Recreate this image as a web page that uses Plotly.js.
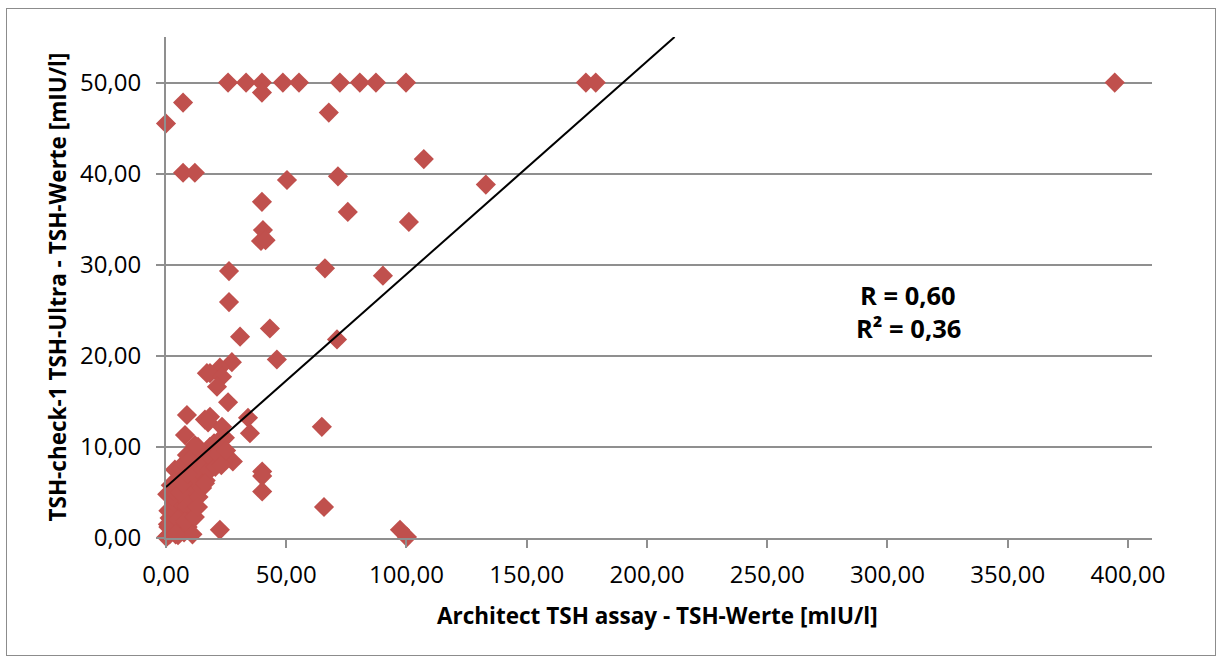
<!DOCTYPE html>
<html>
<head>
<meta charset="utf-8">
<script src="https://cdn.plot.ly/plotly-3.0.1.min.js"></script>
<style>
  html, body { margin: 0; padding: 0; background: #ffffff; }
  #chart { position: absolute; left: 0; top: 0; width: 1216px; height: 657px; }
  #frame { position: absolute; left: 6px; top: 8px; width: 1208px; height: 646px;
           border: 1px solid #8c8c8c; pointer-events: none; }
</style>
</head>
<body>
<div id="chart"></div>
<div id="frame"></div>
<script>
// Architect TSH assay values (x) and TSH-check-1 values (y), mIU/l
const architectTSH = [
  25.8, 33.3, 39.9, 48.6, 55.3, 72.3, 80.6, 87.3, 99.8, 174.6, 178.7, 394.5,
  0.0, 7.1, 39.9, 67.7, 7.1, 12.0, 50.3, 71.5, 107.2, 133.0, 75.6, 101.0,
  39.9, 40.3, 39.5, 41.4, 66.1, 90.2, 26.2, 26.2, 30.8, 43.2, 71.1, 46.1,
  27.4, 17.0, 22.4, 18.3, 23.3, 21.2, 25.8, 8.7, 16.2, 18.3, 17.5, 23.3,
  34.1, 34.9, 7.9, 24.5, 13.3, 18.3, 64.8, 65.7, 97.3, 100.2, 40.0, 40.0,
  40.0, 27.8, 23.7, 22.4,
  0.2, 1.0, 1.5, 2.0, 2.5, 3.0, 3.5, 4.0, 4.2, 5.0, 5.5, 6.0, 6.5, 7.0, 7.5,
  8.0, 8.5, 9.0, 9.5, 10.0, 10.5, 11.0, 11.5, 12.0, 12.5, 13.0, 13.5, 14.0,
  14.5, 15.0, 16.0, 16.5, 17.0, 18.0, 19.0, 20.0, 20.5, 21.5, 22.5, 23.0,
  25.0, 0.5, 1.0, 2.0, 3.7, 1.5, 0.8, 2.8, 4.5, 5.5, 6.5, 7.5, 8.7, 10.0,
  5.0, 3.0, 6.0, 7.0, 9.0, 12.0, 11.0, 8.0, 4.0, 12.0, 16.2, 13.3
];
const checkTSH = [
  50.0, 50.0, 50.0, 50.0, 50.0, 50.0, 50.0, 50.0, 50.0, 50.0, 50.0, 50.0,
  45.5, 47.8, 48.9, 46.7, 40.1, 40.1, 39.3, 39.7, 41.6, 38.8, 35.8, 34.7,
  36.9, 33.8, 32.6, 32.7, 29.6, 28.8, 29.3, 25.9, 22.1, 23.0, 21.8, 19.6,
  19.3, 18.1, 18.7, 18.1, 17.7, 16.6, 14.9, 13.5, 13.0, 13.3, 12.7, 12.2,
  13.2, 11.5, 11.3, 11.0, 10.0, 10.0, 12.2, 3.4, 0.9, 0.1, 7.3, 6.8,
  5.1, 8.4, 8.4, 0.9,
  0.1, 1.2, 0.4, 2.1, 3.2, 0.8, 1.8, 4.0, 2.6, 0.3, 3.6, 1.5, 4.6, 2.8, 0.6,
  5.2, 3.5, 1.2, 6.2, 4.4, 2.2, 7.0, 5.3, 3.2, 8.0, 6.1, 4.5, 9.0,
  7.2, 5.5, 8.2, 6.3, 9.6, 7.4, 8.8, 10.4, 7.8, 9.2, 10.8, 8.0,
  9.6, 4.8, 3.0, 5.8, 7.5, 2.2, 1.5, 4.5, 5.9, 6.6, 7.6, 8.2, 9.1, 8.6,
  2.0, 5.2, 5.0, 6.0, 7.0, 10.2, 0.4, 1.8, 0.4, 2.3, 6.0, 3.4
];
// linear trend line
const trendSlope = 0.2336;
const trendIntercept = 5.6;
const xTicks = [0, 50, 100, 150, 200, 250, 300, 350, 400];
const yTicks = [0, 10, 20, 30, 40, 50];
const statsText = ["R = 0,60", "R² = 0,36"];
const xTitle = 'Architect TSH assay - TSH-Werte [mIU/l]';
const yTitle = 'TSH-check-1 TSH-Ultra - TSH-Werte [mIU/l]';

const xMax = 410, yMax = 55;
const trendXEnd = (yMax - trendIntercept) / trendSlope;

const FONT = "'Open Sans', 'Noto Sans', sans-serif";
const GRID = '#8f8f8f';

const traces = [
  {
    type: 'scatter', mode: 'markers',
    x: architectTSH, y: checkTSH,
    cliponaxis: false,
    marker: { symbol: 'diamond', size: 15.5, color: '#C0504D', line: { width: 0 } },
    hoverinfo: 'x+y', showlegend: false
  },
  {
    type: 'scatter', mode: 'lines',
    x: [0, trendXEnd], y: [trendIntercept, trendIntercept + trendSlope * trendXEnd],
    line: { color: '#000000', width: 2 },
    hoverinfo: 'skip', showlegend: false
  }
];

const layout = {
  width: 1216, height: 657,
  margin: { l: 166, r: 64, t: 37, b: 119 },
  paper_bgcolor: '#ffffff', plot_bgcolor: '#ffffff',
  separators: ',.',
  font: { family: FONT, color: '#000000' },
  showlegend: false,
  xaxis: {
    range: [0, xMax], tickvals: xTicks, tickformat: '.2f',
    showgrid: false, zeroline: false,
    showline: true, linecolor: GRID, linewidth: 2,
    ticks: 'outside', ticklen: 8, tickwidth: 2, tickcolor: GRID,
    ticklabelstandoff: 6,
    tickfont: { family: FONT, size: 24, color: '#000' },
    fixedrange: true
  },
  yaxis: {
    range: [0, yMax], tickvals: yTicks, tickformat: '.2f',
    showgrid: true, gridcolor: GRID, gridwidth: 2,
    zeroline: false,
    showline: true, linecolor: GRID, linewidth: 2,
    ticks: 'outside', ticklen: 8, tickwidth: 2, tickcolor: GRID,
    ticklabelstandoff: 10,
    tickfont: { family: FONT, size: 24, color: '#000' },
    fixedrange: true
  },
  annotations: [
    { x: 0.4985, y: -0.1537, xref: 'paper', yref: 'paper', xanchor: 'center', yanchor: 'middle',
      text: xTitle, showarrow: false,
      font: { family: FONT, size: 22.5, color: '#000', weight: 'bold' } },
    { x: -0.1105, y: 0.5, xref: 'paper', yref: 'paper', xanchor: 'center', yanchor: 'middle',
      text: yTitle, showarrow: false, textangle: -90,
      font: { family: FONT, size: 22.5, color: '#000', weight: 'bold' } },
    { x: 308.6, y: 26.7, xref: 'x', yref: 'y', text: statsText[0], showarrow: false,
      font: { family: FONT, size: 25.5, color: '#000', weight: 'bold' } },
    { x: 308.6, y: 23.1, xref: 'x', yref: 'y', text: statsText[1], showarrow: false,
      font: { family: FONT, size: 25.5, color: '#000', weight: 'bold' } }
  ]
};

Plotly.newPlot('chart', traces, layout, { displayModeBar: false, staticPlot: true });
</script>
</body>
</html>
